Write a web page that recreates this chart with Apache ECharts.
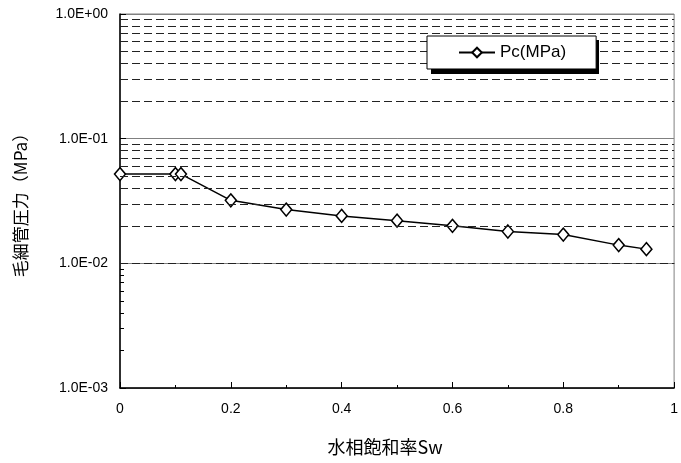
<!DOCTYPE html>
<html>
<head>
<meta charset="utf-8">
<script src="https://cdn.jsdelivr.net/npm/echarts@6/dist/echarts.min.js"></script>
<style>
  html, body { margin: 0; padding: 0; background: #fff; }
  #chart { width: 681px; height: 463px; }
</style>
</head>
<body>
<div id="chart"></div>
<script>
// water saturation Sw and capillary pressure Pc (MPa)
const sw = [0, 0.1, 0.11, 0.2, 0.3, 0.4, 0.5, 0.6, 0.7, 0.8, 0.9, 0.95]
const pc = [0.052, 0.052, 0.052, 0.032, 0.027, 0.024, 0.022, 0.020, 0.018, 0.017, 0.014, 0.013]

// dashed minor grid values (2..9 of each decade)
const minorGrid = [
  0.002, 0.003, 0.004, 0.005, 0.006, 0.007, 0.008, 0.009,
  0.02, 0.03, 0.04, 0.05, 0.06, 0.07, 0.08, 0.09,
  0.2, 0.3, 0.4, 0.5, 0.6, 0.7, 0.8, 0.9
]

const FONT = '"Liberation Sans", "Noto Sans CJK JP", sans-serif'
const CJK = '"Noto Sans CJK JP", sans-serif'

const expLabel = (v) => {
  const e = Math.round(Math.log10(v))
  return '1.0E' + (e < 0 ? '-' : '+') + String(Math.abs(e)).padStart(2, '0')
}

const chart = echarts.init(document.getElementById('chart'))

const option = {
  animation: false,
  textStyle: { fontFamily: FONT },
  grid: {
    left: 120,
    right: 3,
    top: 14,
    bottom: 75,
    show: true,
    borderColor: '#808080',
    borderWidth: 1
  },
  // legend drop shadow
  graphic: [
    {
      type: 'rect',
      z: 50,
      shape: { x: 431, y: 40, width: 168, height: 34 },
      style: { fill: '#000' }
    }
  ],
  legend: {
    data: ['Pc(MPa)'],
    left: 427,
    top: 36,
    z: 60,
    padding: [8, 30, 8, 31],
    itemWidth: 36,
    itemHeight: 12,
    backgroundColor: '#fff',
    borderColor: '#000',
    borderWidth: 1,
    borderRadius: 0,
    textStyle: { fontFamily: FONT, fontSize: 17, color: '#000' }
  },
  xAxis: {
    type: 'value',
    min: 0,
    max: 1,
    interval: 0.2,
    name: '水相飽和率Sw',
    nameLocation: 'middle',
    nameGap: 50,
    nameTextStyle: { fontFamily: CJK, fontSize: 18, color: '#000', padding: [0, 24, 0, 0] },
    axisLine: { lineStyle: { color: '#000', width: 1.5 } },
    axisTick: { inside: true, length: 6, lineStyle: { color: '#000' } },
    minorTick: { show: true, splitNumber: 2, length: 3, lineStyle: { color: '#000' } },
    axisLabel: { fontFamily: FONT, fontSize: 14, color: '#000', margin: 14 },
    splitLine: { show: false }
  },
  yAxis: [
    {
      type: 'log',
      logBase: 10,
      min: 0.001,
      max: 1,
      name: '毛細管圧力（MPa）',
      nameLocation: 'middle',
      nameGap: 91,
      nameTextStyle: { fontFamily: CJK, fontSize: 17, color: '#000' },
      axisLine: { show: true, onZero: false, lineStyle: { color: '#000', width: 1.5 } },
      axisTick: { show: true, inside: true, length: 6, lineStyle: { color: '#000' } },
      axisLabel: { fontFamily: FONT, fontSize: 14, color: '#000', margin: 12, formatter: expLabel },
      splitLine: { show: true, lineStyle: { color: '#808080', width: 1, type: 'solid' } }
    },
    {
      type: 'log',
      logBase: 10,
      min: 0.001,
      max: 1,
      position: 'left',
      axisLine: { show: false },
      axisTick: { show: true, inside: true, length: 4, customValues: minorGrid, lineStyle: { color: '#000' } },
      axisLabel: { show: false },
      splitLine: { show: false }
    }
  ],
  series: [
    {
      name: 'grid',
      type: 'line',
      data: [],
      z: 1,
      silent: true,
      markLine: {
        silent: true,
        symbol: ['none', 'none'],
        label: { show: false },
        lineStyle: { type: [8, 4], color: '#222', width: 1 },
        data: minorGrid.map((v) => ({ yAxis: v }))
      }
    },
    {
      name: 'Pc(MPa)',
      type: 'line',
      z: 3,
      data: sw.map((x, i) => [x, pc[i]]),
      symbol: 'diamond',
      symbolSize: [11, 13],
      showAllSymbol: true,
      lineStyle: { color: '#000', width: 1.5 },
      itemStyle: { color: '#fff', borderColor: '#000', borderWidth: 1.5 }
    }
  ]
}

chart.setOption(option)
</script>
</body>
</html>
